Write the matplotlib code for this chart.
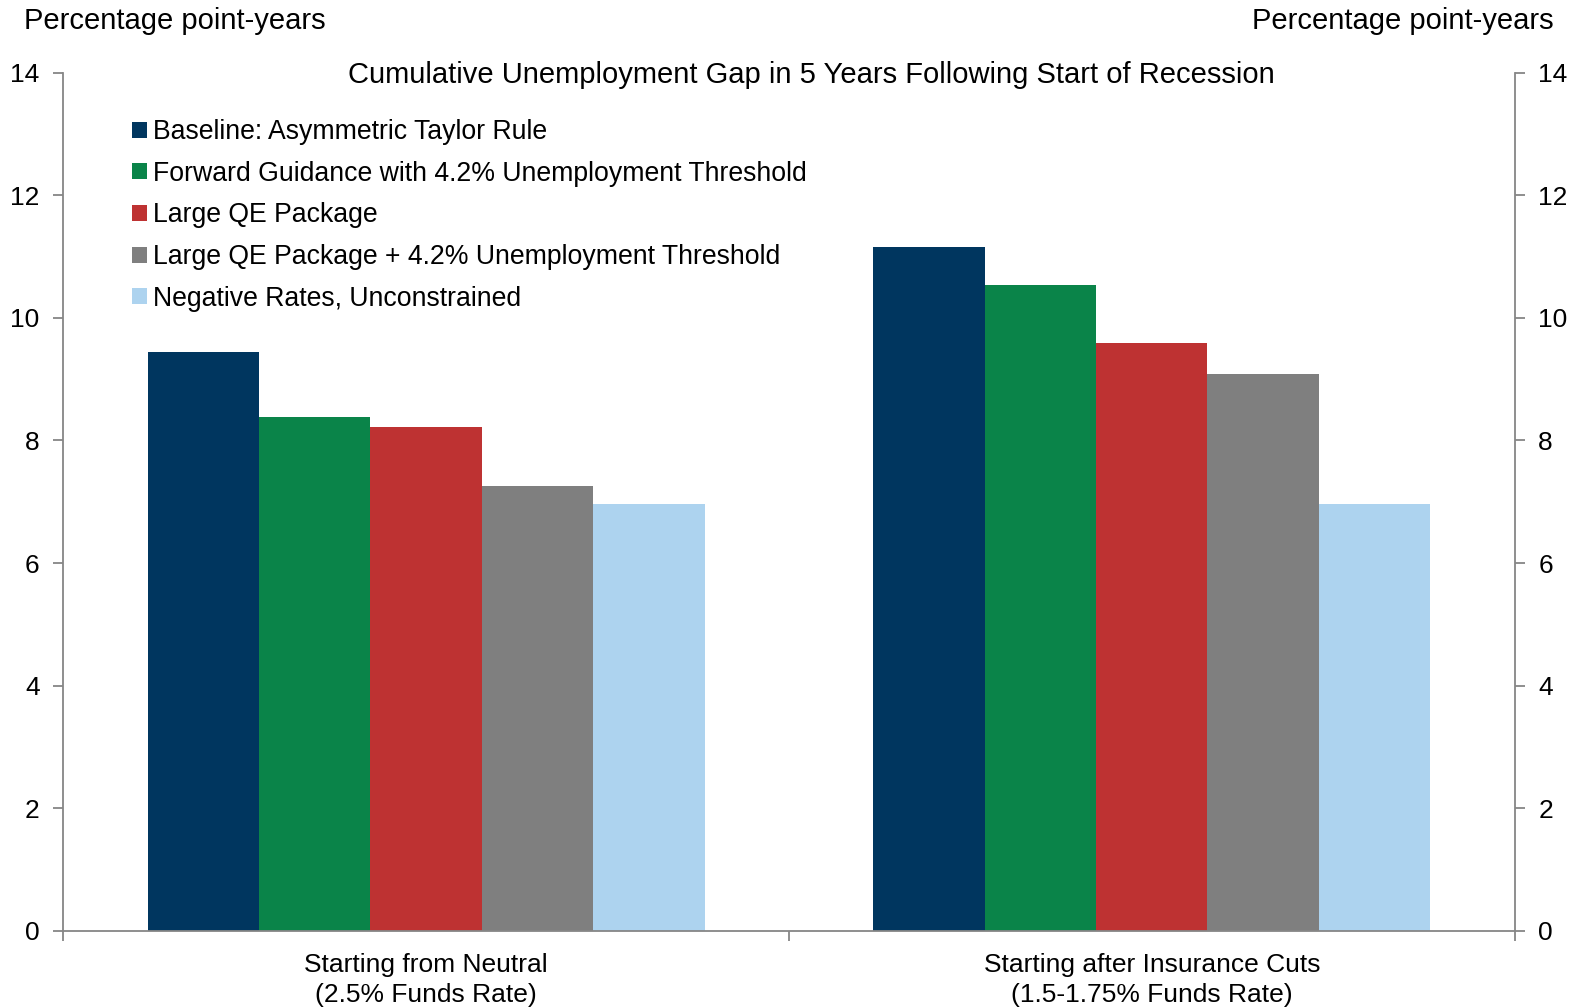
import matplotlib
matplotlib.use("Agg")
import matplotlib.pyplot as plt
import numpy as np

plt.rcParams['font.family'] = ['Liberation Sans', 'DejaVu Sans']

categories = ["Starting from Neutral\n(2.5% Funds Rate)",
              "Starting after Insurance Cuts\n(1.5-1.75% Funds Rate)"]
series_names = ["Baseline: Asymmetric Taylor Rule",
                "Forward Guidance with 4.2% Unemployment Threshold",
                "Large QE Package",
                "Large QE Package + 4.2% Unemployment Threshold",
                "Negative Rates, Unconstrained"]
baseline = [9.44, 11.15]
forward_guidance = [8.39, 10.54]
large_qe = [8.22, 9.59]
qe_threshold = [7.25, 9.09]
negative_rates = [6.97, 6.97]
colors = ["#00365F", "#0A8449", "#BE3232", "#7F7F7F", "#ADD3EF"]

values = [baseline, forward_guidance, large_qe, qe_threshold, negative_rates]

fig = plt.figure(figsize=(15.81, 10.08), dpi=100)
ax = fig.add_axes([0.040, 0.0764, 0.918, 0.8516])

x = np.arange(len(categories))
w = 0.1535
for i, (name, vals) in enumerate(zip(series_names, values)):
    ax.bar(x + (i - 2) * w, vals, width=w, color=colors[i], label=name)

ax.set_xlim(-0.5, 1.5)
ax.set_ylim(0, 14)
ax.set_yticks(range(0, 15, 2))

spine_col = "#868686"
ax.spines["top"].set_visible(False)
for s in ["left", "right", "bottom"]:
    ax.spines[s].set_color(spine_col)
    ax.spines[s].set_linewidth(1.3)

ax.tick_params(axis="y", which="both", direction="out", length=7, width=1.3,
               color=spine_col, labelsize=19, pad=10, left=True, right=True,
               labelleft=True, labelright=True)

ax.set_xticks([-0.5, 0.5, 1.5])
ax.set_xticklabels([])
ax.set_xticks(x, minor=True)
ax.set_xticklabels(categories, minor=True)
ax.tick_params(axis="x", which="major", direction="out", length=7, width=1.3,
               color=spine_col)
ax.tick_params(axis="x", which="minor", length=0, labelsize=19, pad=16)
for t in ax.get_xticklabels(minor=True):
    t.set_linespacing(1.3)

fig.text(0.513, 0.926, "Cumulative Unemployment Gap in 5 Years Following Start of Recession",
         ha="center", va="center", fontsize=21)
fig.text(0.015, 0.979, "Percentage point-years", ha="left", va="center", fontsize=21)
fig.text(0.983, 0.979, "Percentage point-years", ha="right", va="center", fontsize=21)

ax.legend(loc="upper left", bbox_to_anchor=(0.040, 0.958), frameon=False,
          fontsize=19.2, handlelength=0.55, handleheight=0.55, handletextpad=0.25,
          labelspacing=0.585, borderaxespad=0)

fig.savefig("out.png", dpi=100)
